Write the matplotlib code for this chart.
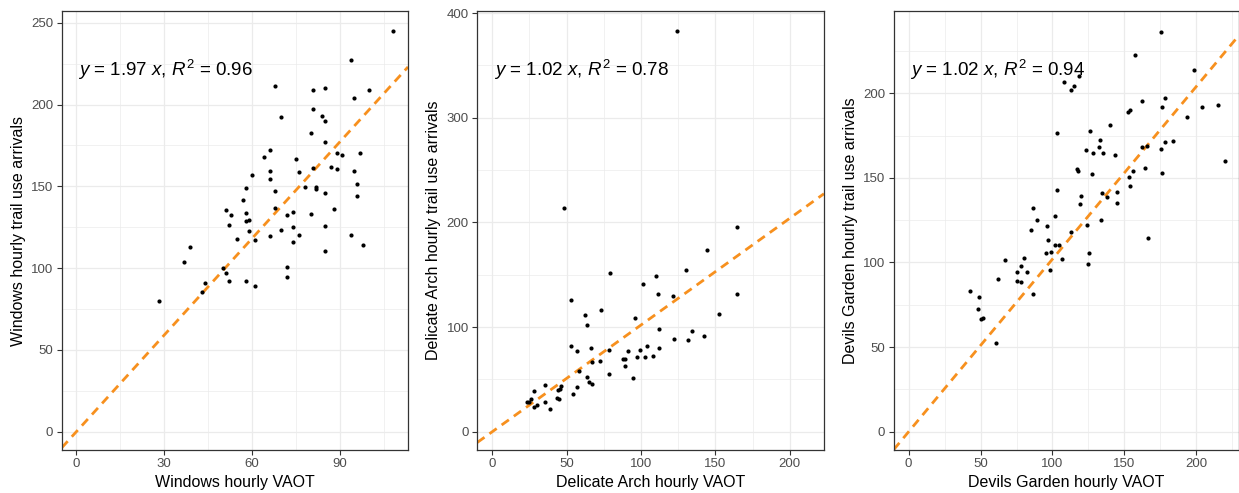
import numpy as np
import matplotlib
matplotlib.use("Agg")
import matplotlib.pyplot as plt
from matplotlib.ticker import MultipleLocator

plt.rcParams['font.family'] = ['Liberation Sans', 'DejaVu Sans']
plt.rcParams['mathtext.fontset'] = 'custom'
plt.rcParams['mathtext.rm'] = 'Liberation Sans'
plt.rcParams['mathtext.it'] = 'Liberation Sans:italic'

# Windows
win_x = [28.1, 36.9, 38.9, 42.9, 44.0, 50.1, 51.0, 52.0, 51.0, 52.9, 52.0, 54.8, 56.9, 58.0,
         58.0, 58.0, 58.8, 58.8, 60.0, 60.9, 58.0, 60.9, 64.1, 66.0, 66.0, 66.0, 67.9, 67.9,
         66.0, 67.9, 70.0, 70.0, 72.0, 72.0, 72.0, 74.0, 74.0, 74.0, 74.9, 75.9, 75.9, 77.9,
         80.0, 80.0, 80.8, 80.8, 80.8, 81.9, 81.9, 83.9, 84.9, 84.9, 84.9, 84.9, 84.9, 84.9,
         86.8, 88.0, 88.9, 88.9, 90.8, 93.9, 94.8, 94.8, 95.9, 95.9, 96.7, 93.9, 98.0, 99.8, 108.0]
win_y = [80.1, 103.9, 112.7, 85.6, 90.7, 99.8, 96.8, 92.3, 135.7, 132.4, 126.5, 118.0, 141.4, 148.9,
         133.5, 128.6, 129.4, 122.7, 156.9, 117.2, 92.1, 89.2, 168.1, 172.0, 159.1, 154.4, 146.9, 136.9,
         119.8, 211.3, 192.3, 123.3, 132.2, 100.9, 94.7, 134.3, 125.1, 115.9, 166.9, 158.5, 120.2, 149.3,
         182.8, 133.0, 208.6, 197.2, 161.4, 149.6, 148.3, 192.9, 210.3, 189.9, 176.9, 145.9, 125.9, 110.4,
         162.0, 136.3, 170.5, 160.6, 168.9, 227.4, 204.2, 159.3, 151.4, 143.8, 170.1, 120.4, 114.3, 208.6, 244.7]

# Delicate Arch
del_x = [124.3, 48.2, 164.2, 164.2, 144.2, 130.3, 79.3, 110.2, 101.0, 111.1, 121.2, 53.1, 73.0, 62.3,
         152.1, 96.1, 63.8, 112.0, 134.2, 142.0, 122.1, 131.3, 53.1, 66.1, 104.1, 112.0, 57.1, 78.6,
         99.2, 91.0, 87.6, 89.4, 97.2, 102.4, 108.0, 72.4, 67.0, 89.4, 58.2, 78.4, 63.8, 94.3,
         65.2, 67.0, 35.2, 46.2, 45.5, 44.3, 57.1, 54.4, 28.2, 26.0, 43.5, 44.6, 23.1, 24.7,
         35.2, 30.2, 28.0, 39.0]
del_y = [382.8, 213.5, 195.4, 131.6, 173.7, 154.6, 151.4, 148.8, 140.9, 132.0, 129.8, 125.9, 116.7, 111.6,
         112.2, 109.0, 102.3, 98.5, 95.9, 91.5, 88.6, 87.4, 81.9, 80.3, 81.9, 79.7, 77.5, 77.8,
         78.1, 76.9, 69.5, 69.5, 71.7, 71.7, 72.4, 67.9, 66.6, 62.8, 57.7, 54.9, 52.0, 51.6,
         47.8, 45.6, 45.0, 43.4, 40.5, 39.9, 42.4, 36.3, 38.9, 31.3, 31.9, 31.3, 28.4, 28.1,
         28.4, 25.5, 23.9, 22.0]

# Devils Garden
dev_x = [175.4, 157.4, 198.4, 107.8, 115.2, 112.9, 118.2, 162.2, 178.4, 176.1, 204.2, 215.3, 152.3, 153.9,
         193.3, 140.0, 102.9, 126.1, 133.3, 183.5, 178.4, 132.3, 162.2, 165.5, 123.3, 175.4, 128.4, 135.1,
         143.2, 219.7, 117.0, 117.9, 164.3, 156.2, 127.2, 176.1, 153.0, 153.9, 102.9, 134.2, 144.8, 120.0,
         137.9, 119.1, 144.8, 86.2, 102.0, 89.0, 133.9, 95.9, 124.0, 84.8, 112.9, 166.2, 96.9, 101.5,
         104.5, 99.2, 95.2, 125.1, 106.8, 67.0, 80.0, 124.4, 78.1, 98.0, 75.1, 82.0, 61.9, 75.1,
         78.3, 86.2, 42.9, 49.1, 48.0, 50.5, 51.9, 60.9]
dev_y = [235.9, 222.6, 213.7, 206.9, 204.5, 201.8, 210.2, 195.3, 197.4, 192.1, 191.8, 192.9, 189.2, 190.0,
         185.7, 181.4, 176.8, 177.6, 172.5, 171.7, 170.9, 168.4, 168.4, 168.8, 166.4, 166.8, 164.9, 164.5,
         163.7, 160.0, 155.4, 154.3, 155.8, 154.1, 152.3, 152.7, 150.3, 145.0, 143.1, 141.1, 141.5, 139.0,
         138.8, 134.6, 135.4, 132.3, 127.4, 125.4, 125.4, 121.5, 121.9, 119.3, 117.8, 114.4, 113.2, 110.5,
         110.5, 106.4, 105.6, 105.6, 102.1, 101.7, 102.5, 99.3, 97.7, 95.6, 94.4, 94.4, 90.5, 89.1,
         88.7, 81.1, 83.2, 79.5, 72.4, 66.7, 67.3, 52.6]

panels = [
    (win_x, win_y, 1.97, "0.96", "Windows"),
    (del_x, del_y, 1.02, "0.78", "Delicate Arch"),
    (dev_x, dev_y, 1.02, "0.94", "Devils Garden"),
]
xlims = [(-5.0, 113.2), (-10.1, 222.9), (-10.4, 229.5)]
ylims = [(-11.2, 257.2), (-17.5, 402.0), (-10.8, 248.6)]
xmaj = [30, 50, 50]
ymaj = [50, 100, 50]
lefts = [0.0498, 0.3852, 0.7213]
widths = [0.2795, 0.2798, 0.2785]

fig = plt.figure(figsize=(12.39, 4.93), dpi=100)

for i, (x, y, slope, r2, name) in enumerate(panels):
    ax = fig.add_axes([lefts[i], 0.0872, widths[i], 0.8905])
    ax.set_xlim(*xlims[i])
    ax.set_ylim(*ylims[i])
    ax.xaxis.set_major_locator(MultipleLocator(xmaj[i]))
    ax.yaxis.set_major_locator(MultipleLocator(ymaj[i]))
    ax.xaxis.set_minor_locator(MultipleLocator(xmaj[i] / 2))
    ax.yaxis.set_minor_locator(MultipleLocator(ymaj[i] / 2))
    ax.grid(which='major', color='#EBEBEB', lw=0.9)
    ax.grid(which='minor', color='#EBEBEB', lw=0.5)
    ax.set_axisbelow(True)
    ax.tick_params(which='minor', length=0)
    ax.tick_params(which='major', length=3.5, width=0.8, color='#333333',
                   labelsize=9.5, labelcolor='#4D4D4D', pad=2.5)
    for s in ax.spines.values():
        s.set_color('#333333')
        s.set_linewidth(0.9)

    ax.axline((0, 0), slope=slope, color='#F7901E', lw=2.0, dashes=(3.2, 2.2), zorder=2)
    ax.plot(x, y, 'o', color='black', ms=3.0, mew=0, zorder=3)

    ax.text(0.047, 0.866, r'$y$ = %.2f $x$, $R^2$ = %s' % (slope, r2),
            transform=ax.transAxes, fontsize=13.5, ha='left', va='center')
    ax.set_xlabel(name + " hourly VAOT", fontsize=11.5, labelpad=3)
    ax.set_ylabel(name + " hourly trail use arrivals", fontsize=11.5, labelpad=4)

fig.savefig("out.png", dpi=100)
